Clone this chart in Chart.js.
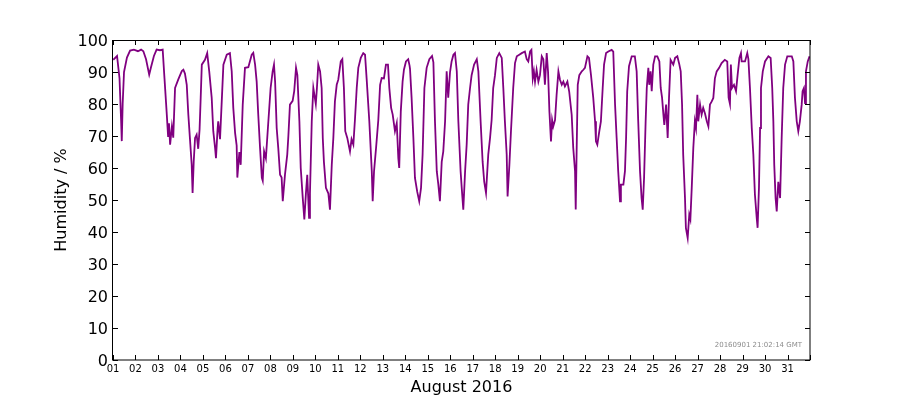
<!DOCTYPE html>
<html><head><meta charset="utf-8">
<script src="https://cdn.jsdelivr.net/npm/chart.js@4/dist/chart.umd.min.js"></script>
<style>html,body{margin:0;padding:0;background:#fff;}canvas{display:block;}</style>
</head><body>
<canvas id="c" width="900" height="400" style="width:900px;height:400px"></canvas>
<script>
const xTitle = 'August 2016';
const yTitle = 'Humidity / %';
const stampText = '20160901 21:02:14 GMT';
const dayLabels = ['01','02','03','04','05','06','07','08','09','10','11','12','13','14','15','16','17','18','19','20','21','22','23','24','25','26','27','28','29','30','31'];
// time in days since 1 Aug 00:00
const days = [
0.01,0.18,0.29,0.36,0.39,0.43,0.49,0.62,0.76,0.93,1.11,1.25,1.35,1.47,1.61,1.69,1.82,1.94,2.09,2.21,2.29,2.39,2.45,2.49,2.54,2.62,2.68,2.76,2.90,
3.06,3.13,3.20,3.28,3.35,3.42,3.50,3.54,3.59,3.65,3.72,3.79,3.85,3.90,3.95,4.09,4.19,4.28,4.39,4.46,4.54,4.58,4.65,4.68,4.76,4.83,4.91,
5.06,5.20,5.28,5.35,5.43,5.50,5.53,5.62,5.68,5.77,5.87,6.02,6.17,6.24,6.32,6.39,6.46,6.54,6.62,6.66,6.72,6.80,6.91,
7.01,7.10,7.16,7.21,7.28,7.35,7.43,7.50,7.55,7.65,7.75,7.80,7.87,7.99,8.06,8.14,8.20,8.29,8.35,8.44,8.51,8.58,8.64,8.72,8.76,8.84,8.91,
9.02,9.07,9.13,9.21,9.28,9.33,9.38,9.47,9.58,9.65,9.73,9.80,9.87,9.95,10.02,10.13,10.20,10.27,10.33,10.42,10.54,10.61,10.69,10.76,10.84,10.91,
11.02,11.13,11.21,11.28,11.40,11.51,11.55,11.61,11.70,11.80,11.88,11.95,12.05,12.14,12.23,12.29,12.37,12.44,12.54,12.62,12.69,12.73,12.80,12.88,12.94,
13.03,13.13,13.19,13.21,13.28,13.36,13.43,13.53,13.62,13.70,13.77,13.85,13.95,14.07,14.19,14.25,14.32,14.40,14.47,14.54,14.62,14.69,14.77,14.84,14.91,14.99,
15.06,15.14,15.21,15.29,15.36,15.46,15.51,15.58,15.66,15.73,15.80,15.88,15.95,16.06,16.18,16.25,16.35,16.44,16.51,16.59,16.69,16.77,16.84,16.91,16.99,
17.07,17.18,17.29,17.36,17.43,17.51,17.55,17.63,17.70,17.80,17.88,17.96,18.07,18.18,18.32,18.40,18.47,18.55,18.61,18.67,18.72,18.77,18.84,18.92,18.99,
19.07,19.14,19.21,19.29,19.35,19.41,19.48,19.53,19.58,19.66,19.73,19.81,19.88,19.96,20.03,20.10,20.21,20.29,20.40,20.47,20.55,20.58,20.62,20.67,20.74,20.85,20.92,20.99,
21.10,21.17,21.26,21.36,21.44,21.48,21.54,21.63,21.70,21.78,21.84,21.93,22.03,22.18,22.25,22.33,22.40,22.47,22.55,22.59,22.70,22.77,22.82,22.87,22.95,
23.07,23.21,23.29,23.36,23.44,23.51,23.56,23.62,23.69,23.74,23.81,23.85,23.91,23.96,24.03,24.11,24.21,24.30,24.36,24.42,24.48,24.52,24.60,24.67,24.73,24.80,24.92,
25.00,25.10,25.19,25.25,25.31,25.36,25.44,25.48,25.56,25.63,25.68,25.74,25.81,25.88,25.93,25.99,26.03,26.11,26.18,26.25,26.33,26.41,26.48,26.55,26.63,26.70,26.77,26.85,26.96,
27.07,27.21,27.32,27.38,27.44,27.48,27.53,27.62,27.71,27.78,27.86,27.93,27.96,28.11,28.21,28.26,28.33,28.41,28.48,28.55,28.63,28.67,28.73,28.78,28.82,28.90,
29.00,29.15,29.25,29.32,29.37,29.41,29.47,29.52,29.59,29.67,29.74,29.81,29.89,29.99,30.19,30.26,30.33,30.41,30.48,30.55,30.63,30.67,30.73,30.78,30.82,30.90,30.98
];
const humidity = [
93.8,95,88,75,68.4,80,90,94.5,96.7,97,96.5,97,96.5,94,89.2,91.5,95,97,96.8,97,88,77,70,74,67.3,73,69.5,85,87.6,
90.3,90.7,89.5,86,76.7,69.4,61,52.2,62,69.4,70.4,66,72,81.9,92.3,93.8,95.9,90.2,81.9,71.5,66.3,63.1,72,74.6,69,79.8,92.3,
95.4,95.9,90.2,78.8,71,67,57,65,61,79.8,91.3,91.5,95.4,96,92.3,87,76.7,66.3,56.9,56,65.2,63,74.6,
85,90.2,92.3,87,72.5,66.3,57.9,57,49.6,58,64.2,70,79.8,81,84,91.3,89,74.6,60,50.6,43.9,52,57.9,44.4,52,74.6,85,
80,85,92.3,90.2,85,69.4,62,53.8,52,47,61,69.4,80.8,86,87.6,93.3,94,85,71.5,69.4,65.2,69,67.3,75,85,91.3,
94.4,95.9,95.4,88,74.6,59,49.6,59,66.3,75,86,88.1,88,92.3,92.3,85,78.8,76.7,71.5,74,63.1,60,77.7,87,90.7,
93.3,94,92,91,82,69.4,56.9,52.6,49.6,53.8,64.2,85,91.3,94,95,93,74.6,59,54.8,49.6,61.9,65.2,74.6,90.2,82,90,
93.3,95.4,95.9,90.2,74.6,59,53.8,47,59,67.3,79.8,85,89,92.3,94,90.2,74.6,61.9,55.7,52.2,64.2,69.4,75,85,89,
94.4,95.9,94.4,85,74.6,64.2,51.1,61,71.5,85,92.8,94.9,95.4,95.9,96.4,94,93.3,96.4,96.9,88,90.2,87,90.7,87,89,
94.9,94,86,95.9,90,77.7,68.3,75,73,75,82.9,90.2,87.6,86,87,85.5,87,83.9,76.7,66.3,59,47,65,86,89,90.2,90.7,91.3,
94.9,94.4,89,81.9,74.6,68.3,67.3,71.5,74.6,85,92.3,95.9,96.4,96.9,96.4,79.8,69.4,59,49.6,54.8,54.8,59,69.4,83.9,91.8,
94.9,94.9,90.2,74.6,59,50.6,47,56.9,74.6,85,91.3,86,90.2,84,92.3,94.9,94.9,93.3,85,82,76.7,73.5,79.8,69.4,82,93.8,92.3,
94.4,94.9,92.3,90.2,79.8,64.2,50.6,41.3,38.1,45.4,44,53.8,66.3,74.6,72.5,82.9,74.6,79.8,76.7,78.8,77,74.6,73,79.8,80.8,81.9,88,90.2,91.3,
92.8,93.8,93.3,82,80,92.3,85,86,84,89,94.4,95.9,93.3,93.3,95.9,94,85,72.5,64.2,51.7,44.4,41.3,53.8,72.5,85,90.2,
93.3,94.9,94.4,85,74.6,61,50.6,46.4,55.7,50.6,69.4,85,92.3,94.9,94.9,93.3,82,74.6,71.5,74.6,79.8,84,85,80.3,90.2,93.3,94.9
];
const points = days.map((d, i) => ({x: d, y: humidity[i]}));

const frame = {
  id: 'frame',
  afterDraw(chart) {
    const {ctx, chartArea: {left, right, top, bottom}, scales: {x, y}} = chart;
    ctx.save();
    ctx.strokeStyle = '#000';
    ctx.lineWidth = 1;
    ctx.beginPath();
    const L = 5;
    x.ticks.forEach(t => {
      const px = Math.round(x.getPixelForValue(t.value)) + 0.5;
      ctx.moveTo(px, bottom); ctx.lineTo(px, bottom - L);
      ctx.moveTo(px, top); ctx.lineTo(px, top + L);
    });
    y.ticks.forEach(t => {
      const py = Math.round(y.getPixelForValue(t.value)) + 0.5;
      ctx.moveTo(left, py); ctx.lineTo(left + L, py);
      ctx.moveTo(right, py); ctx.lineTo(right - L, py);
    });
    ctx.stroke();
    ctx.strokeRect(Math.round(left) - 0.5, Math.round(top) + 0.5, Math.round(right - left) + 0.5, Math.round(bottom - top) - 0.5);
    ctx.fillStyle = '#8c8c8c';
    ctx.font = '7px "DejaVu Sans"';
    ctx.textAlign = 'right';
    ctx.textBaseline = 'middle';
    ctx.fillText(stampText, right - 8, bottom - 15);
    ctx.restore();
  }
};

new Chart(document.getElementById('c'), {
  type: 'line',
  data: { datasets: [{
    data: points,
    borderColor: '#800080',
    borderWidth: 1.8,
    pointRadius: 0,
    tension: 0,
    fill: false
  }]},
  options: {
    responsive: false,
    animation: false,
    devicePixelRatio: 1,
    layout: { padding: { left: 0, top: 40, right: 90, bottom: 0 } },
    plugins: { legend: { display: false }, tooltip: { enabled: false } },
    scales: {
      x: {
        type: 'linear', min: 0, max: 31,
        afterFit: s => { s.height = 40; },
        afterBuildTicks: s => { s.ticks = dayLabels.map((_, i) => ({value: i})).concat([{value: 31}]); },
        grid: { display: false, drawTicks: false },
        border: { display: false },
        ticks: {
          autoSkip: false, maxRotation: 0, padding: 3,
          color: '#000', font: { family: 'DejaVu Sans', size: 10 },
          callback: v => (v < dayLabels.length ? dayLabels[v] : '')
        },
        title: { display: true, text: xTitle, color: '#000',
          font: { family: 'DejaVu Sans', size: 16 }, padding: { top: 0, bottom: 3 } }
      },
      y: {
        min: 0, max: 100,
        afterFit: s => { s.width = 113; },
        grid: { display: false, drawTicks: false },
        border: { display: false },
        ticks: { stepSize: 10, padding: 5, labelOffset: 2, color: '#000',
          font: { family: 'DejaVu Sans', size: 16 } },
        title: { display: true, text: yTitle, color: '#000',
          font: { family: 'DejaVu Sans', size: 16 }, padding: { top: 52, bottom: 0 } }
      }
    }
  },
  plugins: [frame]
});
</script>
</body></html>
